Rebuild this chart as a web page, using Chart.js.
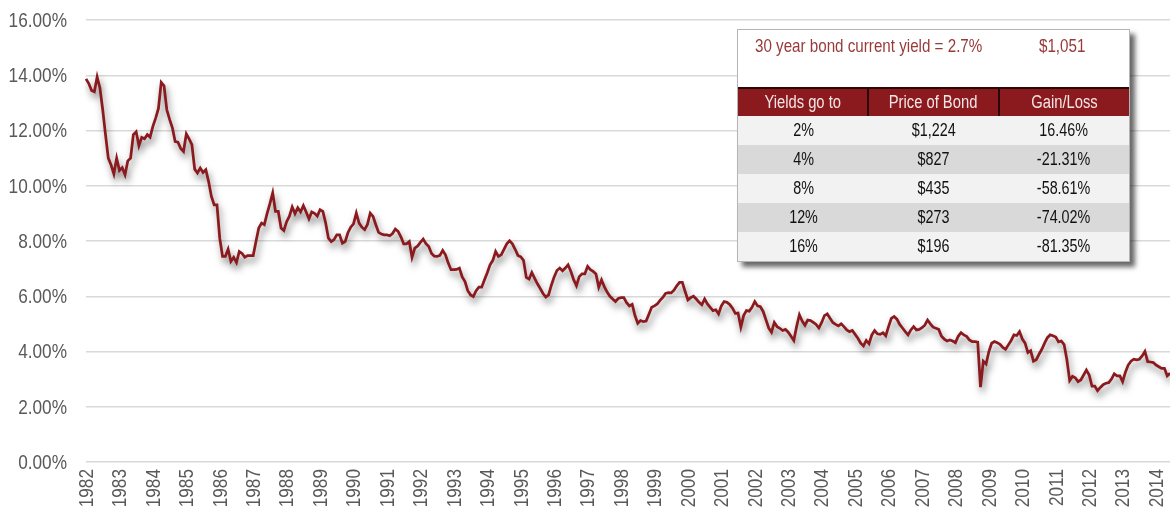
<!DOCTYPE html>
<html lang="en">
<head>
<meta charset="UTF-8" />
<title>30 Year Bond Yield</title>
<script src="https://cdn.jsdelivr.net/npm/chart.js@4.4.1/dist/chart.umd.min.js"></script>
<style>
  html, body { margin: 0; padding: 0; background: #fff; }
  .chart-wrap { position: relative; width: 1170px; height: 512px; }
  .bond-box {
    position: absolute; left: 737px; top: 29px; width: 391px;
    background: #fff; border: 1px solid #b5b5b5;
    box-shadow: 5px 5px 5px rgba(0, 0, 0, 0.6);
    font-family: 'Liberation Sans', Arial, sans-serif;
  }
  /* Arial Narrow look: squeeze Liberation Sans horizontally */
  .narrow { display: inline-block; transform: scaleX(0.82); white-space: nowrap; }
  .bond-title { position: relative; height: 57px; color: #983a3a; font-size: 18.5px; }
  .bond-title .narrow { position: absolute; top: 5px; transform-origin: left center; }
  .bond-table { width: 100%; border-collapse: collapse; table-layout: fixed; }
  .bond-table th {
    background: #8b1a1f; color: #f4e6e6; font-weight: normal; font-size: 18px;
    height: 27px; padding: 0; border-top: 2px solid #2a0808; border-left: 2px solid #2a0808;
  }
  .bond-table th:first-child { border-left: none; }
  .bond-table td { height: 29px; padding: 0; text-align: center; font-size: 17.5px; color: #111; }
  .bond-table tbody tr:nth-child(odd) td { background: #f2f2f2; }
  .bond-table tbody tr:nth-child(even) td { background: #d9d9d9; }
</style>
</head>
<body>
<div class="chart-wrap">
  <canvas id="yield-chart"></canvas>
  <div class="bond-box">
    <div class="bond-title">
      <span class="narrow" id="title-left" style="left: 17px"></span>
      <span class="narrow" id="title-right" style="left: 301px"></span>
    </div>
    <table class="bond-table">
      <thead><tr id="head-row"></tr></thead>
      <tbody id="table-body"></tbody>
    </table>
  </div>
</div>
<script>
  // year ticks on the x axis (one per January)
  const years = [1982, 1983, 1984, 1985, 1986, 1987, 1988, 1989, 1990, 1991, 1992, 1993, 1994, 1995, 1996, 1997,
    1998, 1999, 2000, 2001, 2002, 2003, 2004, 2005, 2006, 2007, 2008, 2009, 2010, 2011, 2012, 2013, 2014]

  // 30 year bond yield, monthly, Jan 1982 - Jun 2014 (%)
  const yields = [
    13.87, 13.70, 13.45, 13.40, 13.94, 13.54, 12.75, 11.85, 11.00, 10.75, 10.43, 11.00,
    10.55, 10.65, 10.40, 10.90, 11.00, 11.85, 11.95, 11.45, 11.75, 11.70, 11.85, 11.76,
    12.15, 12.45, 12.80, 13.74, 13.62, 12.75, 12.40, 12.10, 11.60, 11.58, 11.35, 11.24,
    11.88, 11.70, 11.49, 10.60, 10.46, 10.64, 10.48, 10.58, 10.15, 9.61, 9.31, 9.31,
    8.10, 7.44, 7.44, 7.70, 7.26, 7.41, 7.22, 7.62, 7.55, 7.41, 7.47, 7.47,
    7.47, 7.98, 8.47, 8.65, 8.59, 9.00, 9.35, 9.74, 9.07, 9.07, 8.47, 8.38,
    8.70, 8.90, 9.23, 8.99, 9.20, 9.05, 9.28, 9.05, 8.80, 9.05, 9.00, 8.90,
    9.13, 9.07, 8.65, 8.10, 7.98, 8.05, 8.22, 8.22, 7.92, 7.98, 8.30, 8.50,
    8.62, 9.01, 8.65, 8.50, 8.41, 8.60, 9.01, 8.89, 8.59, 8.31, 8.25, 8.22,
    8.22, 8.19, 8.27, 8.43, 8.35, 8.15, 7.90, 7.90, 7.98, 7.41, 7.74, 7.82,
    7.95, 8.07, 7.90, 7.80, 7.55, 7.45, 7.44, 7.48, 7.66, 7.50, 7.20, 6.96,
    6.96, 6.97, 7.02, 6.70, 6.53, 6.20, 6.05, 5.99, 6.20, 6.33, 6.33, 6.60,
    6.85, 7.14, 7.30, 7.62, 7.44, 7.50, 7.70, 7.90, 8.01, 7.90, 7.70, 7.48,
    7.43, 7.30, 6.68, 6.62, 6.86, 6.65, 6.45, 6.28, 6.10, 5.97, 6.05, 6.40,
    6.70, 6.93, 7.02, 6.92, 7.02, 7.14, 6.90, 6.60, 6.38, 6.71, 6.81, 6.81,
    7.08, 6.96, 6.90, 6.81, 6.33, 6.59, 6.35, 6.15, 6.00, 5.90, 5.81, 5.92,
    5.95, 5.95, 5.77, 5.65, 5.71, 5.30, 5.02, 5.12, 5.08, 5.10, 5.35, 5.60,
    5.65, 5.72, 5.85, 5.96, 6.10, 6.13, 6.12, 6.22, 6.38, 6.50, 6.50, 6.17,
    5.87, 5.95, 6.00, 5.90, 5.78, 5.69, 5.90, 5.72, 5.60, 5.48, 5.51, 5.36,
    5.65, 5.81, 5.78, 5.70, 5.57, 5.38, 5.39, 4.88, 5.30, 5.48, 5.46, 5.60,
    5.81, 5.65, 5.62, 5.45, 5.15, 4.85, 4.70, 5.05, 4.90, 4.84, 4.76, 4.80,
    4.70, 4.55, 4.40, 4.90, 5.33, 5.10, 4.95, 5.14, 5.12, 5.05, 4.98, 4.85,
    5.05, 5.30, 5.36, 5.20, 5.05, 4.98, 4.93, 5.00, 4.90, 4.78, 4.72, 4.76,
    4.62, 4.48, 4.30, 4.20, 4.40, 4.28, 4.60, 4.76, 4.64, 4.62, 4.68, 4.57,
    4.90, 5.20, 5.27, 5.17, 4.98, 4.85, 4.72, 4.60, 4.78, 4.90, 4.78, 4.80,
    4.86, 4.95, 5.14, 5.00, 4.88, 4.84, 4.80, 4.55, 4.45, 4.38, 4.42, 4.38,
    4.32, 4.55, 4.68, 4.60, 4.55, 4.42, 4.36, 4.36, 4.34, 2.71, 3.65, 3.55,
    4.00, 4.30, 4.36, 4.32, 4.26, 4.15, 4.08, 4.24, 4.40, 4.60, 4.58, 4.72,
    4.45, 4.30, 3.96, 4.03, 3.65, 3.70, 3.90, 4.08, 4.30, 4.50, 4.60, 4.57,
    4.52, 4.35, 4.38, 4.25, 3.70, 2.95, 3.10, 3.05, 2.91, 2.97, 3.15, 3.33,
    3.15, 2.75, 2.75, 2.58, 2.70, 2.80, 2.85, 2.87, 3.00, 3.19, 3.12, 3.12,
    2.91, 3.25, 3.51, 3.65, 3.72, 3.70, 3.72, 3.84, 4.00, 3.63, 3.62, 3.60,
    3.51, 3.45, 3.39, 3.39, 3.12, 3.21
  ]

  // inset table
  const titleText = '30 year bond current yield = 2.7%'
  const currentPrice = '$1,051'
  const tableHeaders = ['Yields go to', 'Price of Bond', 'Gain/Loss']
  const tableYields = ['2%', '4%', '8%', '12%', '16%']
  const tablePrices = ['$1,224', '$827', '$435', '$273', '$196']
  const tableGains = ['16.46%', '-21.31%', '-58.61%', '-74.02%', '-81.35%']

  // month labels like 1982-01
  const months = []
  years.forEach(y => {
    for (let m = 1; m <= 12; m++) months.push(y + '-' + String(m).padStart(2, '0'))
  })
  const labels = months.slice(0, yields.length)

  // fill the inset
  const narrow = t => `<span class="narrow">${t}</span>`
  document.getElementById('title-left').textContent = titleText
  document.getElementById('title-right').textContent = currentPrice
  document.getElementById('head-row').innerHTML = tableHeaders.map(h => `<th>${narrow(h)}</th>`).join('')
  document.getElementById('table-body').innerHTML = tableYields
    .map((y, i) => `<tr><td>${narrow(y)}</td><td>${narrow(tablePrices[i])}</td><td>${narrow(tableGains[i])}</td></tr>`)
    .join('')

  // soft shadow under the line
  const lineShadow = {
    id: 'lineShadow',
    beforeDatasetDraw(chart) {
      const ctx = chart.ctx
      ctx.save()
      ctx.shadowColor = 'rgba(0, 0, 0, 0.5)'
      ctx.shadowBlur = 7
      ctx.shadowOffsetX = 2
      ctx.shadowOffsetY = 5
    },
    afterDatasetDraw(chart) {
      chart.ctx.restore()
    },
  }

  // axis labels drawn narrow (Arial Narrow look) at the scale positions
  const narrowTicks = {
    id: 'narrowTicks',
    afterDraw(chart) {
      const ctx = chart.ctx
      const xs = chart.scales.x
      const ys = chart.scales.y
      const area = chart.chartArea
      ctx.save()
      ctx.fillStyle = '#595959'
      ctx.font = "21px 'Liberation Sans', Arial, sans-serif"
      ctx.textBaseline = 'middle'
      ctx.textAlign = 'right'
      ys.ticks.forEach(t => {
        ctx.save()
        ctx.translate(area.left - 19, ys.getPixelForValue(t.value) + 1)
        ctx.scale(0.82, 1)
        ctx.fillText(t.value.toFixed(2) + '%', 0, 0)
        ctx.restore()
      })
      years.forEach(y => {
        const idx = labels.indexOf(y + '-01')
        if (idx < 0) return
        ctx.save()
        ctx.translate(xs.getPixelForValue(idx) + 1, area.bottom + 7)
        ctx.rotate(-Math.PI / 2)
        ctx.scale(0.82, 1)
        ctx.fillText(String(y), 0, 0)
        ctx.restore()
      })
      ctx.restore()
    },
  }

  new Chart(document.getElementById('yield-chart'), {
    type: 'line',
    data: {
      labels: labels,
      datasets: [
        {
          label: '30 Year Bond Yield',
          data: yields,
          borderColor: '#8b1a1f',
          borderWidth: 2.75,
          pointRadius: 0,
          tension: 0,
          fill: false,
        },
      ],
    },
    options: {
      responsive: true,
      maintainAspectRatio: false,
      animation: false,
      layout: { padding: { left: 0, top: 20, right: 0, bottom: 0 } },
      plugins: { legend: { display: false }, tooltip: { enabled: false } },
      scales: {
        x: {
          grid: { display: false },
          border: { display: false },
          ticks: { display: false },
          afterFit: scale => { scale.height = 50 },
        },
        y: {
          min: 0,
          max: 16,
          grid: { color: '#d9d9d9', lineWidth: 1.5, drawTicks: false },
          border: { display: false },
          ticks: { display: false, stepSize: 2 },
          afterFit: scale => { scale.width = 86 },
        },
      },
    },
    plugins: [lineShadow, narrowTicks],
  })
</script>
</body>
</html>
